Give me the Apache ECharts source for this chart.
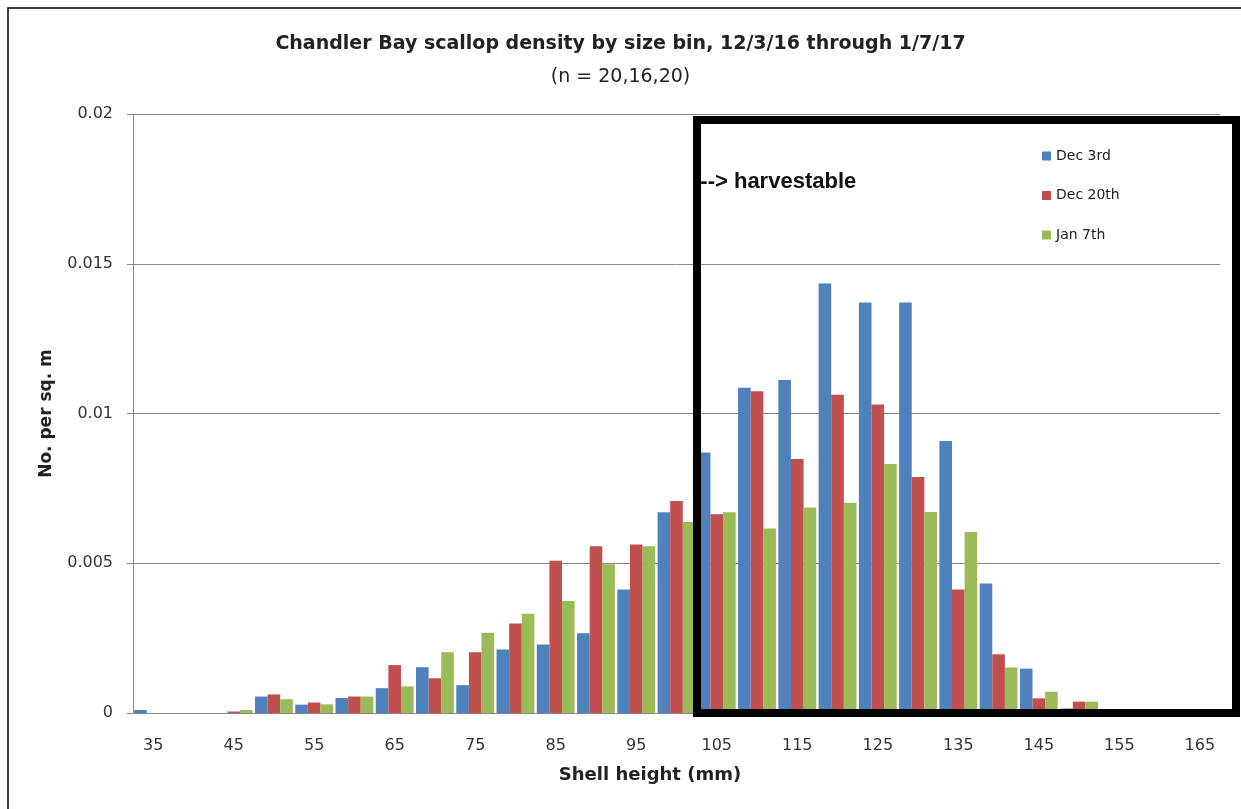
<!DOCTYPE html>
<html>
<head>
<meta charset="utf-8">
<script src="https://cdn.jsdelivr.net/npm/echarts@6/dist/echarts.min.js"></script>
<style>
html,body{margin:0;padding:0;background:#fff;}
#chart{width:1241px;height:809px;}
</style>
</head>
<body>
<div id="chart"></div>
<script>
var categories = ['35','40','45','50','55','60','65','70','75','80','85','90','95','100','105','110','115','120','125','130','135','140','145','150','155','160','165'];
var dec3 = [0.0001,0,0,0.00055,0.00028,0.0005,0.00083,0.00153,0.00093,0.00212,0.00229,0.00266,0.00412,0.0067,0.0087,0.01086,0.01112,0.01434,0.01371,0.01371,0.00908,0.00432,0.00148,0.00015,0,0,0];
var dec20 = [0,0,0.00005,0.00062,0.00035,0.00055,0.0016,0.00116,0.00203,0.00299,0.00508,0.00557,0.00563,0.00708,0.00664,0.01074,0.00848,0.01063,0.0103,0.00788,0.00412,0.00196,0.00049,0.00038,0,0,0];
var jan7 = [0,0,0.0001,0.00046,0.00029,0.00055,0.00089,0.00203,0.00268,0.00331,0.00374,0.00497,0.00557,0.00638,0.0067,0.00616,0.00686,0.00702,0.00831,0.00671,0.00604,0.00152,0.00071,0.00038,0,0,0];
var seriesNames = ['Dec 3rd','Dec 20th','Jan 7th'];
var colors = ['#4F81BD','#C0504D','#9BBB59'];

var chart = echarts.init(document.getElementById('chart'), null, {renderer:'canvas'});
var font = 'DejaVu Sans';
var option = {
  animation: false,
  backgroundColor: '#fff',
  title: [
    {text: 'Chandler Bay scallop density by size bin, 12/3/16 through 1/7/17', left: 'center', top: 30,
     textStyle: {fontFamily: font, fontSize: 19, fontWeight: 'bold', color: '#222'}},
    {text: '(n = 20,16,20)', left: 'center', top: 63,
     textStyle: {fontFamily: font, fontSize: 19, fontWeight: 'normal', color: '#222'}}
  ],
  legend: {
    orient: 'vertical', left: 1037, top: 144, itemWidth: 9, itemHeight: 9, itemGap: 25.5,
    icon: 'rect', data: seriesNames, itemStyle: {borderWidth: 0},
    textStyle: {fontFamily: font, fontSize: 14, color: '#222'}
  },
  grid: {left: 133, right: 21, top: 114, bottom: 96, containLabel: false},
  xAxis: {
    type: 'category', data: categories,
    name: 'Shell height (mm)', nameLocation: 'middle', nameGap: 53,
    nameTextStyle: {fontFamily: font, fontSize: 18, fontWeight: 'bold', color: '#222', padding: [0, 53, 0, 0]},
    axisLine: {lineStyle: {color: '#888', width: 1}},
    axisTick: {interval: 0, alignWithLabel: false, length: 6, lineStyle: {color: '#888'}},
    axisLabel: {interval: 1, margin: 25, fontFamily: font, fontSize: 16, color: '#333'}
  },
  yAxis: {
    type: 'value', min: 0, max: 0.02, interval: 0.005,
    name: 'No. per sq. m', nameLocation: 'middle', nameGap: 78, nameRotate: 90,
    nameTextStyle: {fontFamily: font, fontSize: 17, fontWeight: 'bold', color: '#222'},
    axisLine: {show: true, lineStyle: {color: '#888', width: 1}},
    axisTick: {show: true, length: 6, lineStyle: {color: '#888'}},
    splitLine: {lineStyle: {color: '#888', width: 1}},
    axisLabel: {margin: 20, fontFamily: font, fontSize: 16, color: '#333'}
  },
  series: [
    {name: seriesNames[0], type: 'bar', data: dec3, itemStyle: {color: colors[0]}, barGap: '0%', barCategoryGap: '6%'},
    {name: seriesNames[1], type: 'bar', data: dec20, itemStyle: {color: colors[1]}, barGap: '0%', barCategoryGap: '6%'},
    {name: seriesNames[2], type: 'bar', data: jan7, itemStyle: {color: colors[2]}, barGap: '0%', barCategoryGap: '6%'}
  ],
  graphic: [
    {type: 'rect', shape: {x: 8, y: 8, width: 1400, height: 1000}, style: {fill: 'none', stroke: '#000', lineWidth: 1.5}, silent: true, z: 100},
    {type: 'rect', shape: {x: 697, y: 120, width: 539, height: 593}, style: {fill: 'none', stroke: '#000', lineWidth: 8}, silent: true, z: 100},
    {type: 'text', left: 693, top: 171, style: {text: '---> harvestable', font: 'bold 22px "Liberation Sans"', fill: '#111'}, z: 99}
  ]
};
chart.setOption(option);
</script>
</body>
</html>
